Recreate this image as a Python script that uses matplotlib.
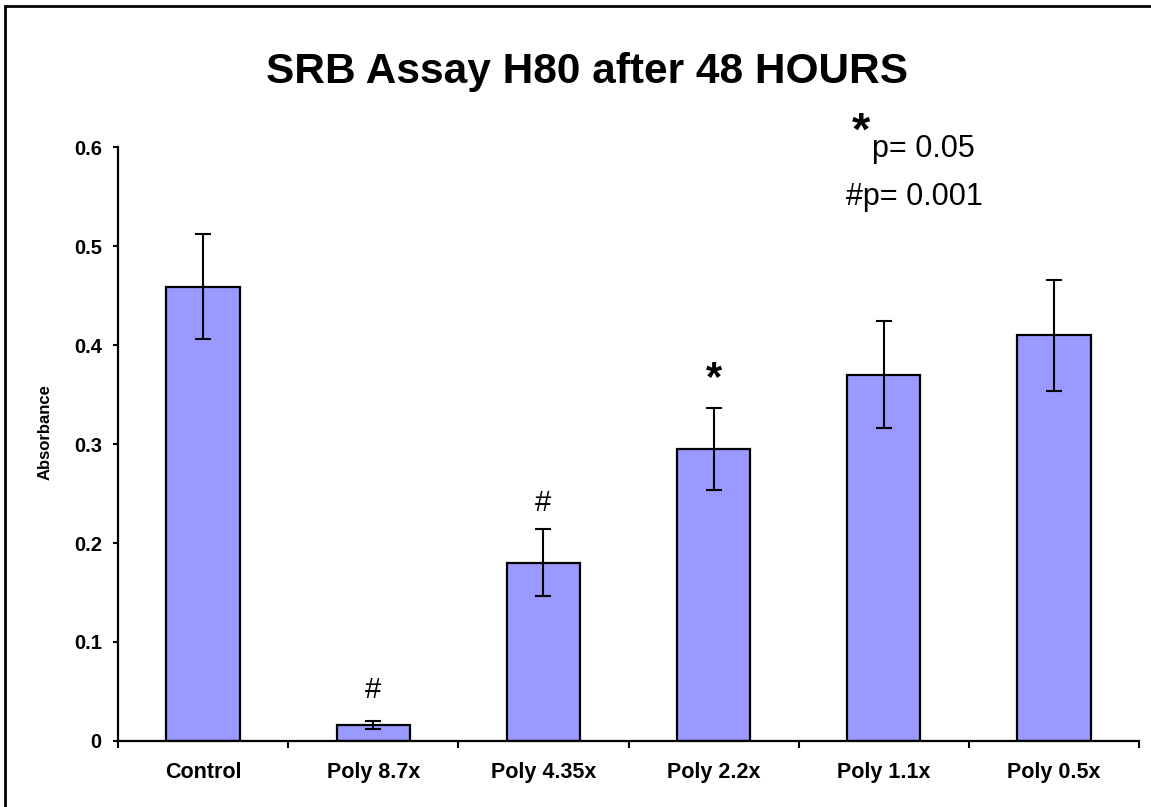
import matplotlib
matplotlib.use("Agg")
import matplotlib.pyplot as plt
from matplotlib.patches import Rectangle
import numpy as np

plt.rcParams['font.family'] = ['Liberation Sans', 'DejaVu Sans']

categories = ['Control', 'Poly 8.7x', 'Poly 4.35x', 'Poly 2.2x', 'Poly 1.1x', 'Poly 0.5x']
absorbance = [0.459, 0.016, 0.180, 0.295, 0.370, 0.410]
errors = [0.053, 0.004, 0.034, 0.041, 0.054, 0.056]
# significance marks above bars: (index, symbol, y)
marks = [(1, '#', 0.052), (2, '#', 0.24), (3, '*', 0.366)]

fig = plt.figure(figsize=(11.51, 8.07), dpi=100)
ax = fig.add_axes([0.1025, 0.0818, 0.8871, 0.736])

x = np.arange(len(categories))
ax.bar(x, absorbance, width=0.43, color='#9999FF', edgecolor='black', linewidth=1.6, zorder=2)
ax.errorbar(x, absorbance, yerr=errors, fmt='none', ecolor='black', elinewidth=1.5,
            capsize=5.5, capthick=1.5, zorder=3)

ax.set_xlim(-0.5, 5.5)
ax.set_ylim(0, 0.6)
ax.set_yticks([0, 0.1, 0.2, 0.3, 0.4, 0.5, 0.6])
ax.set_yticklabels(['0', '0.1', '0.2', '0.3', '0.4', '0.5', '0.6'])
ax.set_xticks(x)
ax.set_xticklabels(categories)
ax.set_xticks(np.arange(-0.5, 6.0, 1.0), minor=True)
ax.tick_params(axis='x', which='major', length=0, pad=15, labelsize=15.5)
ax.tick_params(axis='x', which='minor', length=5, width=1.5, direction='out')
ax.tick_params(axis='y', length=3.6, width=1.5, direction='out', pad=8, labelsize=14.5)
for lab in ax.get_xticklabels() + ax.get_yticklabels():
    lab.set_fontweight('bold')

for side in ['top', 'right']:
    ax.spines[side].set_visible(False)
for side in ['left', 'bottom']:
    ax.spines[side].set_linewidth(1.6)

ax.set_ylabel('Absorbance', fontsize=12, fontweight='bold')
ax.yaxis.set_label_coords(-0.064, 0.52)

for i, sym, y in marks:
    if sym == '*':
        ax.text(i, y, sym, ha='center', va='center', fontsize=30, fontweight='bold')
    else:
        ax.text(i, y, sym, ha='center', va='center', fontsize=21)

fig.text(0.5097, 0.911, 'SRB Assay H80 after 48 HOURS', ha='center', va='center',
         fontsize=30.5, fontweight='bold')

# p-value legend
fig.text(0.7405, 0.835, '*', ha='left', va='center', fontsize=34, fontweight='bold')
fig.text(0.758, 0.815, 'p= 0.05', ha='left', va='center', fontsize=22)
fig.text(0.735, 0.756, '#p= 0.001', ha='left', va='center', fontsize=22)

# outer frame
fig.add_artist(Rectangle((0.0043, -0.05), 1.2, 1.042, transform=fig.transFigure,
                         fill=False, edgecolor='black', linewidth=2, clip_on=False))

fig.savefig('out.png', dpi=100)
